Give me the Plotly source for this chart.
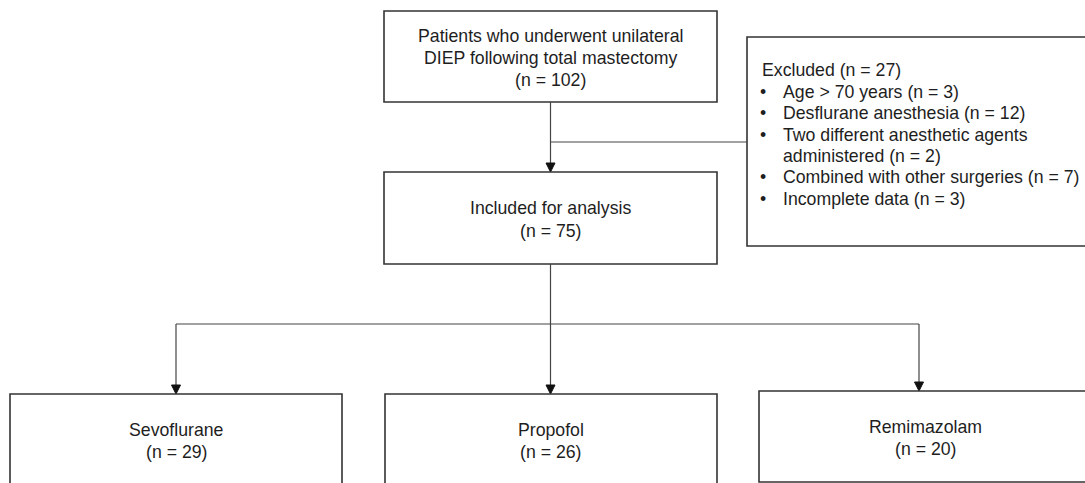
import plotly.graph_objects as go

# ---- data ----
top_lines = ["Patients who underwent unilateral", "DIEP following total mastectomy"]
top_n = 102
included_label = "Included for analysis"
included_n = 75
excluded_n = 27
excluded_reasons = ["Age > 70 years (n = 3)", "Desflurane anesthesia (n = 12)",
                    "Two different anesthetic agents", "administered (n = 2)",
                    "Combined with other surgeries (n = 7)", "Incomplete data (n = 3)"]
excluded_bullet = [True, True, True, False, True, True]
groups = ["Sevoflurane", "Propofol", "Remimazolam"]
group_n = [29, 26, 20]

# ---- layout geometry (pixels) ----
W, H = 1085, 483
FONT = dict(family="Arial, Liberation Sans, sans-serif", size=17.7, color="#1e1e1e")
LINE = dict(color="#333333", width=1.6)
THIN = dict(color="#444444", width=1.2)

fig = go.Figure()
shapes = []
ann = []

def box(x0, x1, y0, y1):
    shapes.append(dict(type="rect", x0=x0, x1=x1, y0=y0, y1=y1, line=LINE, fillcolor="rgba(0,0,0,0)"))

def seg(x0, y0, x1, y1, line=THIN):
    shapes.append(dict(type="line", x0=x0, y0=y0, x1=x1, y1=y1, line=line))

def arrow_down(x, y0, y1):
    seg(x, y0, x, y1 - 6)
    shapes.append(dict(type="path", path=f"M {x-4.5},{y1-9} L {x+4.5},{y1-9} L {x},{y1} Z",
                       fillcolor="#111111", line=dict(color="#111111", width=1)))

def text(x, y, s, xanchor="center"):
    ann.append(dict(x=x, y=y, text=s, showarrow=False, xanchor=xanchor, yanchor="middle",
                    font=FONT, xref="x", yref="y"))

# top box
box(384, 717, 11, 102)
cx = 550.5
for i, s in enumerate(top_lines + [f"(n = {top_n})"]):
    text(cx, 36 + 22 * i, s)

# excluded box
box(747, 1092, 37, 246)
text(760, 70, f"Excluded (n = {excluded_n})", xanchor="left")
for i, (s, b) in enumerate(zip(excluded_reasons, excluded_bullet)):
    y = 92 + 21.3 * i
    if b:
        text(763, y, "•")
    text(781, y, s, xanchor="left")

# arrow top -> included, branch to excluded
arrow_down(cx, 102, 172)
seg(cx, 142, 747, 142)

# included box
box(384, 717, 172, 264)
text(cx, 208, included_label)
text(cx, 231, f"(n = {included_n})")

# split lines
seg(cx, 264, cx, 324)
gx = [176, cx, 919]
gtop = [394, 394, 391]
seg(gx[0], 324, gx[2], 324)
for x, t in zip(gx, gtop):
    arrow_down(x, 324, t)

# group boxes
gbox = [(10, 342, 394, 495), (385, 717, 394, 495), (759, 1092, 391, 482)]
gtext_x = [176, cx, 925]
for (x0, x1, y0, y1), tx, name, n in zip(gbox, gtext_x, groups, group_n):
    box(x0, x1, y0, y1)
    text(tx, y0 + 36, name)
    text(tx, y0 + 58, f"(n = {n})")

fig.update_layout(
    width=W, height=H, margin=dict(l=0, r=0, t=0, b=0),
    paper_bgcolor="white", plot_bgcolor="white",
    xaxis=dict(range=[0, W], visible=False, fixedrange=True),
    yaxis=dict(range=[H, 0], visible=False, fixedrange=True),
    shapes=shapes, annotations=ann, showlegend=False,
)
fig.write_html("out.html", config=dict(displayModeBar=False),
               post_script="document.body.style.margin='0';")
